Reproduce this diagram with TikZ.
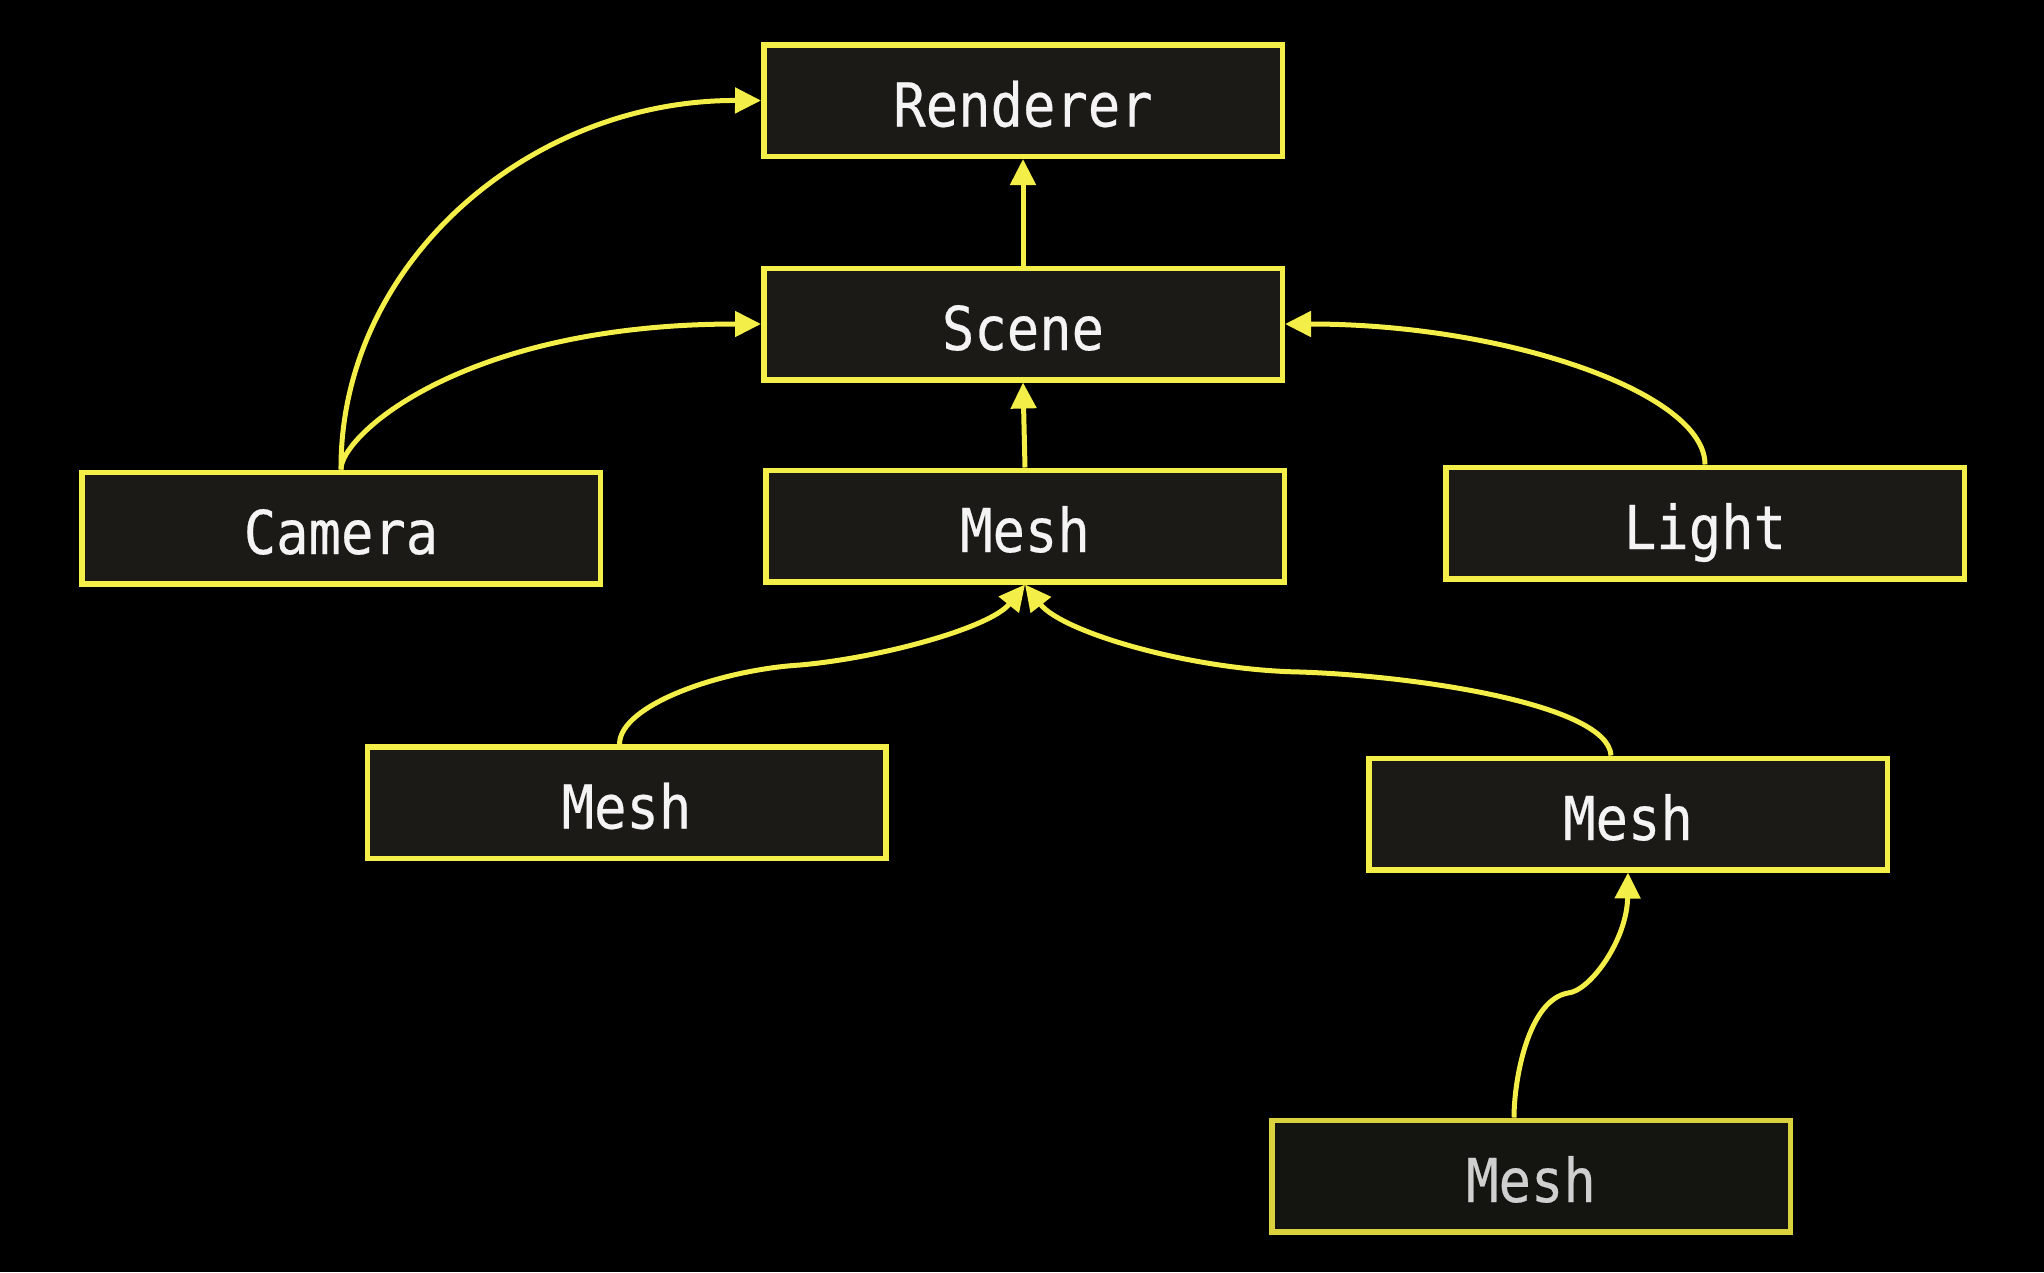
\documentclass[tikz,border=0pt]{standalone}
\usepackage{fontspec}
\newfontfamily\boxfont[FakeStretch=0.89,FakeBold=0.4]{DejaVu Sans Mono}
\usetikzlibrary{arrows.meta}
\definecolor{boxfill}{HTML}{1C1A16}
\definecolor{ylw}{HTML}{F4EE48}
\definecolor{txt}{HTML}{F4F4F4}
\definecolor{boxfillb}{HTML}{141411}
\definecolor{ylwb}{HTML}{D9D13E}
\definecolor{txtb}{HTML}{CFCFCF}
\begin{document}
\begin{tikzpicture}[x=1pt,y=-1pt,
  cls/.style={draw=ylw, fill=boxfill, line width=5.5pt, minimum width=518.5pt,
    minimum height=111.5pt, inner sep=0pt, text=txt,
    font=\boxfont\fontsize{60.5}{60}\selectfont, text height=52pt, text depth=0pt},
  clsdim/.style={cls, draw=ylwb, fill=boxfillb, text=txtb},
  conn/.style={draw=ylw, line width=5pt, -{Triangle[length=26pt,width=25pt]}}]
\fill[black] (0,0) rectangle (2044,1272);
\node[cls] (renderer) at (1023,100.5) {Renderer};
\node[cls] (scene) at (1023,324) {Scene};
\node[cls] (camera) at (341,528) {Camera};
\node[cls] (mesh1) at (1025,526) {Mesh};
\node[cls] (light) at (1705,523) {Light};
\node[cls] (mesh2) at (626.5,802.5) {Mesh};
\node[cls] (mesh3) at (1628,814) {Mesh};
\node[clsdim] (mesh4) at (1531,1176) {Mesh};
\coordinate (m2mid) at (800,665);
\coordinate (m3mid) at (1300,672);
\coordinate (m4mid) at (1568,993);
\draw[conn] (scene.north) -- (renderer.south);
\draw[conn] (mesh1.north) -- (scene.south);
\draw[conn] (camera.north) .. controls (340,264) and (528,100) .. (renderer.west);
\draw[conn] (camera.north) .. controls (340,437) and (460,324) .. (scene.west);
\draw[conn] (light.north) .. controls (1705,393) and (1507,324) .. (scene.east);
\draw[conn] ([xshift=-7pt]mesh2.north) .. controls (620,705) and (720,670) .. (m2mid)
  .. controls (880,658) and (990,628) .. (mesh1.south);
\draw[conn] ([xshift=-17pt]mesh3.north) .. controls (1608,705) and (1420,676) .. (m3mid)
  .. controls (1190,670) and (1062,632) .. (mesh1.south);
\draw[conn] ([xshift=-17pt]mesh4.north) .. controls (1514,1080) and (1528,1000) .. (m4mid)
  .. controls (1590,991) and (1627,940) .. (mesh3.south);
\end{tikzpicture}
\end{document}
